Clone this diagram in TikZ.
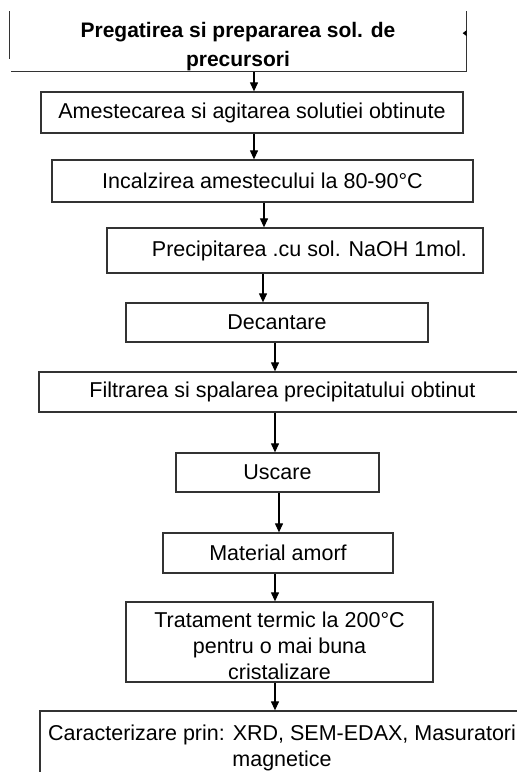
\documentclass[tikz,border=0pt]{standalone}
\usepackage{fontspec}
\setmainfont{Liberation Sans}
\usetikzlibrary{arrows.meta}
\begin{document}
\begin{tikzpicture}[x=1pt,y=-1pt,
  box/.style={draw=black!80, line width=1.3pt, inner sep=0pt, align=center,
    font=\fontsize{21.5}{26}\selectfont},
  arr/.style={line width=1.2pt, -{Triangle[length=9pt,width=8pt]}}]
\useasboundingbox (0,0) rectangle (517,772);
\clip (0,0) rectangle (517,772);
% top box (partially drawn)
\node[box, draw=none, font=\bfseries\fontsize{21}{29}\selectfont,
  minimum width=456pt, minimum height=57pt] (top) at (238,41.5)
  {\rule{0pt}{26pt}Pregatirea si prepararea sol. de\\precursori};
\draw[draw=black!80, line width=1.3pt] (top.north west) -- ++(0,48);
\draw[draw=black!80, line width=1.3pt] ([xshift=2pt]top.south west) -- (top.south east) -- (top.north east);
\fill[black] ([yshift=-19pt]top.north east) -- ++(-4,3) -- ++(4,3) -- cycle;
% boxes
\node[box, minimum width=422pt, minimum height=41pt] (b2) at (252,112.5)
  {Amestecarea si agitarea solutiei obtinute};
\node[box, minimum width=421pt, minimum height=42pt] (b3) at (262.5,181)
  {Incalzirea amestecului la 80-90°C};
\node[box, minimum width=376pt, minimum height=45pt] (b4) at (295,250.5)
  {\hspace*{29pt}Precipitarea .cu sol. NaOH 1mol.};
\node[box, minimum width=302pt, minimum height=39pt] (b5) at (277,322.5)
  {Decantare};
\node[box, minimum width=487pt, minimum height=40pt] (b6) at (282.5,392)
  {Filtrarea si spalarea precipitatului obtinut};
\node[box, minimum width=203pt, minimum height=39pt] (b7) at (277.5,472.5)
  {Uscare};
\node[box, minimum width=230pt, minimum height=40pt] (b8) at (278,553)
  {Material amorf};
\node[box, minimum width=307pt, minimum height=80pt] (b9) at (279.5,642)
  {\rule{0pt}{24pt}Tratament termic la 200°C\\pentru o mai buna\\cristalizare};
\node[box, minimum width=484pt, minimum height=74pt] (b10) at (282,748)
  {Caracterizare prin: XRD, SEM-EDAX, Masuratori\\magnetice};
% arrows
\path ([xshift=16pt]top.south) coordinate (s1);
\draw[arr] (s1) -- (s1 |- b2.north);
\path ([xshift=2pt]b2.south) coordinate (s2);
\draw[arr] (s2) -- (s2 |- b3.north);
\path ([xshift=1.5pt]b3.south) coordinate (s3);
\draw[arr] (s3) -- (s3 |- b4.north);
\path ([xshift=-32pt]b4.south) coordinate (s4);
\draw[arr] (s4) -- (s4 |- b5.north);
\path ([xshift=-2pt]b5.south) coordinate (s5);
\draw[arr] (s5) -- (s5 |- b6.north);
\path ([xshift=-7.5pt]b6.south) coordinate (s6);
\draw[arr] (s6) -- (s6 |- b7.north);
\path ([xshift=1.5pt]b7.south) coordinate (s7);
\draw[arr] (s7) -- (s7 |- b8.north);
\path ([xshift=-3pt]b8.south) coordinate (s8);
\draw[arr] (s8) -- (s8 |- b9.north);
\path ([xshift=-4.5pt]b9.south) coordinate (s9);
\draw[arr] (s9) -- (s9 |- b10.north);
\end{tikzpicture}
\end{document}
